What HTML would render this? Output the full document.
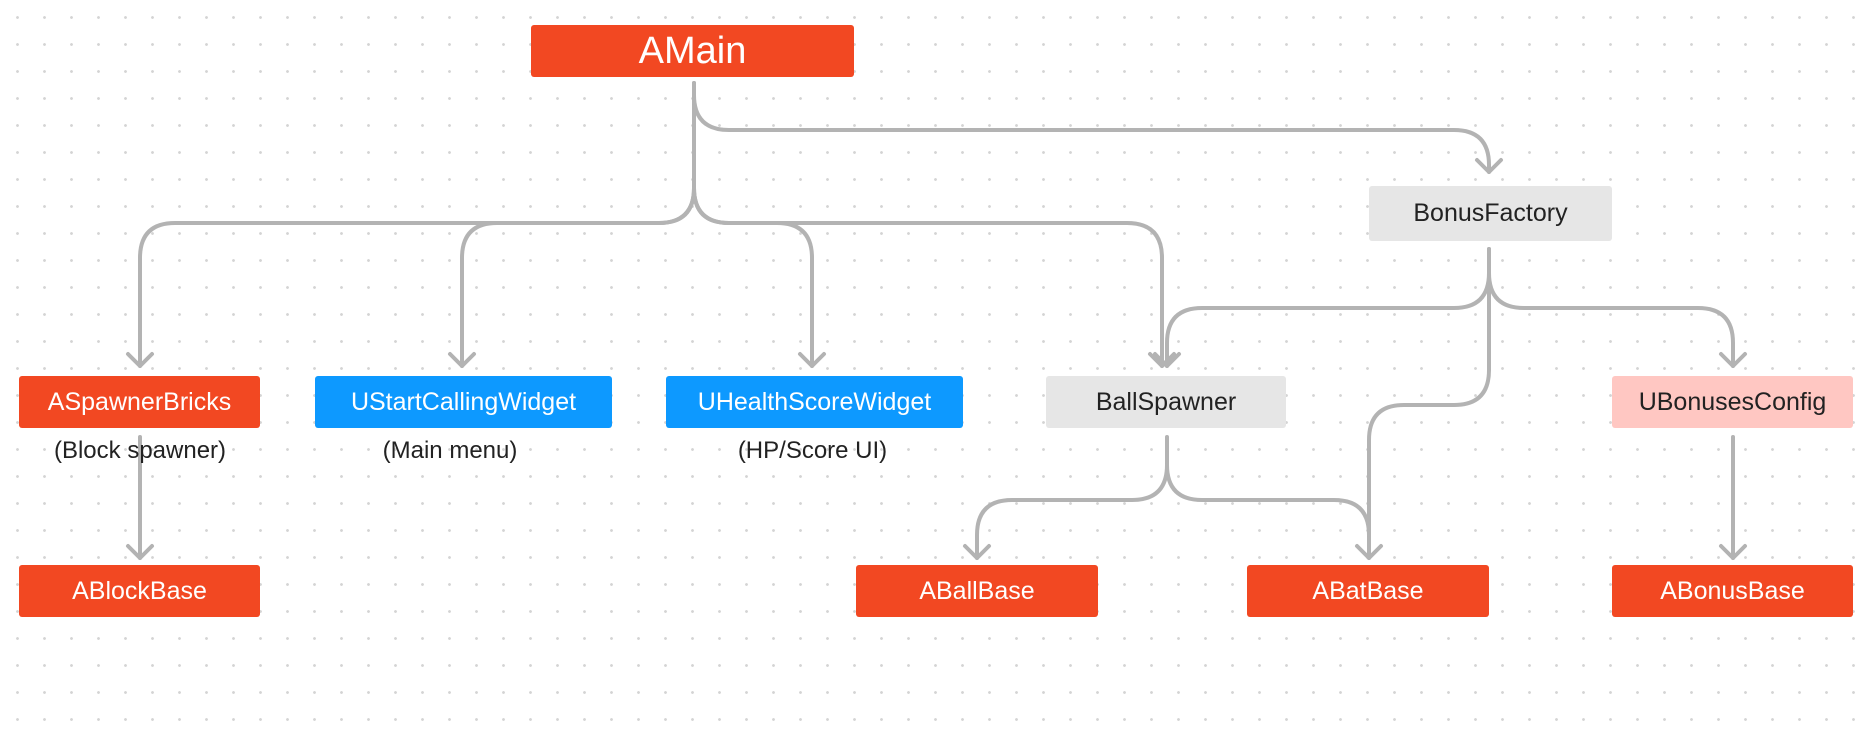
<!DOCTYPE html>
<html><head><meta charset="utf-8"><style>
html,body{margin:0;padding:0;}
body{width:1859px;height:740px;position:relative;overflow:hidden;background:#fff;
background-image:radial-gradient(circle,#d4d4d4 1.2px,transparent 1.6px);background-size:27px 27px;background-position:4px 4px;
font-family:"Liberation Sans",sans-serif;}
.b{position:absolute;display:flex;align-items:center;justify-content:center;font-size:25px;color:#fff;border-radius:3px;}
.o{background:#f24822;}
.bl{background:#0d99ff;}
.g{background:#e6e6e6;color:#222;}
.p{background:#ffc7c2;color:#222;}
.s{position:absolute;font-size:24px;color:#222;text-align:center;}
svg{position:absolute;left:0;top:0;}
</style></head><body>
<svg width="1859" height="740" fill="none" stroke="#b3b3b3" stroke-width="4" stroke-linecap="round" stroke-linejoin="round">
<path d="M694,83 V188 Q694,223 659,223 H175 Q140,223 140,258 V366"/>
<path d="M694,188 Q694,223 659,223 H497 Q462,223 462,258 V366"/>
<path d="M694,188 Q694,223 729,223 H777 Q812,223 812,258 V366"/>
<path d="M694,188 Q694,223 729,223 H1127 Q1162,223 1162,258 V366"/>
<path d="M694,83 V95 Q694,130 729,130 H1454 Q1489,130 1489,165 V172"/>
<path d="M1489,249 V273 Q1489,308 1454,308 H1202 Q1167,308 1167,343 V366"/>
<path d="M1489,273 Q1489,308 1524,308 H1698 Q1733,308 1733,343 V366"/>
<path d="M1489,249 V370 Q1489,405 1454,405 H1404 Q1369,405 1369,440 V558"/>
<path d="M1167,437 V465 Q1167,500 1132,500 H1012 Q977,500 977,535 V558"/>
<path d="M1167,465 Q1167,500 1202,500 H1334 Q1369,500 1369,535"/>
<path d="M140,437 V558"/>
<path d="M1733,437 V558"/>
<g>
<path d="M128,354 L140,366 L152,354"/>
<path d="M450,354 L462,366 L474,354"/>
<path d="M800,354 L812,366 L824,354"/>
<path d="M1150,354 L1162,366 L1174,354"/>
<path d="M1477,160 L1489,172 L1501,160"/>
<path d="M1155,354 L1167,366 L1179,354"/>
<path d="M1721,354 L1733,366 L1745,354"/>
<path d="M128,546 L140,558 L152,546"/>
<path d="M965,546 L977,558 L989,546"/>
<path d="M1357,546 L1369,558 L1381,546"/>
<path d="M1721,546 L1733,558 L1745,546"/>
</g>
</svg>
<div class="b o" style="left:531px;top:25px;width:323px;height:52px;font-size:38px;">AMain</div>
<div class="b g" style="left:1369px;top:186px;width:243px;height:55px;">BonusFactory</div>
<div class="b o" style="left:19px;top:376px;width:241px;height:52px;">ASpawnerBricks</div>
<div class="b bl" style="left:315px;top:376px;width:297px;height:52px;">UStartCallingWidget</div>
<div class="b bl" style="left:666px;top:376px;width:297px;height:52px;">UHealthScoreWidget</div>
<div class="b g" style="left:1046px;top:376px;width:240px;height:52px;">BallSpawner</div>
<div class="b p" style="left:1612px;top:376px;width:241px;height:52px;">UBonusesConfig</div>
<div class="s" style="left:20px;top:437px;width:240px;">(Block spawner)</div>
<div class="s" style="left:320px;top:437px;width:260px;">(Main menu)</div>
<div class="s" style="left:680px;top:437px;width:265px;">(HP/Score UI)</div>
<div class="b o" style="left:19px;top:565px;width:241px;height:52px;">ABlockBase</div>
<div class="b o" style="left:856px;top:565px;width:242px;height:52px;">ABallBase</div>
<div class="b o" style="left:1247px;top:565px;width:242px;height:52px;">ABatBase</div>
<div class="b o" style="left:1612px;top:565px;width:241px;height:52px;">ABonusBase</div>
</body></html>
